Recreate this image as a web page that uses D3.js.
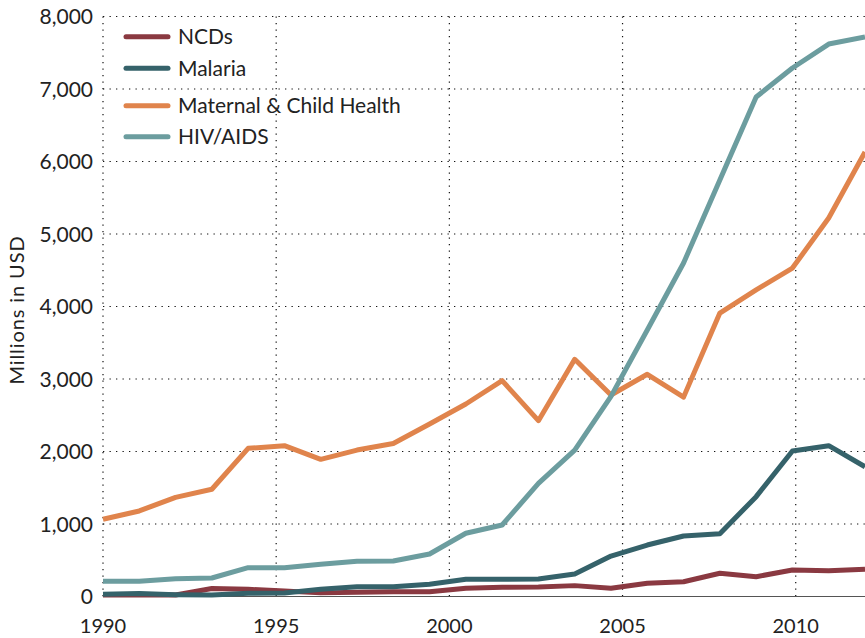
<!DOCTYPE html>
<html>
<head>
<meta charset="utf-8">
<title>Development assistance for health</title>
<script src="https://d3js.org/d3.v7.min.js"></script>
<style>
  body { margin: 0; background: #fff; }
  text { font-family: Lato, "Open Sans", sans-serif; fill: #222; }
</style>
</head>
<body>
<script type="text/javascript">
var width = 865,
    height = 638;

// data, millions of USD
var years = [1990, 1991, 1992, 1993, 1994, 1995, 1996, 1997, 1998, 1999, 2000,
             2001, 2002, 2003, 2004, 2005, 2006, 2007, 2008, 2009, 2010, 2011];
var ncds     = [20, 20, 20, 110, 100, 75, 50, 58, 66, 66, 113,
                127, 131, 150, 113, 182, 204, 320, 273, 365, 356, 375];
var malaria  = [30, 40, 25, 20, 45, 48, 100, 135, 135, 170, 237,
                237, 240, 310, 558, 710, 834, 866, 1377, 2007, 2080, 1790];
var maternal = [1065, 1180, 1368, 1479, 2044, 2080, 1892, 2020, 2110, 2380, 2655,
                2977, 2425, 3272, 2779, 3065, 2750, 3910, 4230, 4530, 5220, 6130];
var hiv      = [210, 210, 245, 255, 397, 397, 444, 485, 490, 586, 872,
                986, 1561, 2020, 2760, 3676, 4600, 5745, 6890, 7290, 7620, 7717];

var seriesNames = ["NCDs", "Malaria", "Maternal & Child Health", "HIV/AIDS"];
var seriesValues = [ncds, malaria, maternal, hiv];
var seriesColors = ["#8a3941", "#35626a", "#e0844c", "#6c9d9f"];

var xTicks = [1990, 1995, 2000, 2005, 2010];
var yTicks = [0, 1000, 2000, 3000, 4000, 5000, 6000, 7000, 8000];

var plotLeft = 103, plotRight = 865, plotTop = 16.5, plotBottom = 596.5;

var svg = d3.select("body").append("svg")
    .attr("width", width)
    .attr("height", height);

// axis labels sit on the calendar years, data points are spread evenly
var xAxisScale = d3.scaleLinear().domain([1990, 2012]).range([plotLeft, plotRight]);
var xData = d3.scalePoint().domain(years).range([plotLeft, plotRight]);
var y = d3.scaleLinear().domain([0, 8000]).range([plotBottom, plotTop]);

// grid
var grid = svg.append("g").attr("class", "grid");
grid.selectAll("line.h")
    .data(yTicks.filter(function(d) { return d > 0; }))
    .enter().append("line")
    .attr("class", "h")
    .attr("x1", plotLeft).attr("x2", plotRight)
    .attr("y1", function(d) { return y(d); })
    .attr("y2", function(d) { return y(d); })
    .attr("stroke", "#111")
    .attr("stroke-width", 1.2)
    .attr("stroke-dasharray", "1.3,5.2");
grid.selectAll("line.v")
    .data(xTicks)
    .enter().append("line")
    .attr("class", "v")
    .attr("x1", function(d) { return xAxisScale(d); })
    .attr("x2", function(d) { return xAxisScale(d); })
    .attr("y1", plotTop).attr("y2", plotBottom)
    .attr("stroke", "#111")
    .attr("stroke-width", 1.2)
    .attr("stroke-dasharray", "1.3,5.2");

// baseline
svg.append("line")
    .attr("x1", plotLeft).attr("x2", plotRight)
    .attr("y1", y(0)).attr("y2", y(0))
    .attr("stroke", "#555")
    .attr("stroke-width", 1.2);

// y tick labels
svg.append("g").selectAll("text")
    .data(yTicks)
    .enter().append("text")
    .attr("x", 93)
    .attr("y", function(d) { return y(d); })
    .attr("dy", "0.36em")
    .attr("text-anchor", "end")
    .style("font-size", "21px")
    .text(d3.format(","));

// x tick labels
svg.append("g").selectAll("text")
    .data(xTicks)
    .enter().append("text")
    .attr("x", function(d) { return xAxisScale(d); })
    .attr("y", 633)
    .attr("text-anchor", "middle")
    .style("font-size", "20px")
    .text(function(d) { return d; });

svg.append("text")
    .attr("transform", "translate(24,310) rotate(-90)")
    .attr("text-anchor", "middle")
    .style("font-size", "20px")
    .style("letter-spacing", "0.9px")
    .text("Millions in USD");

// lines
var line = d3.line()
    .x(function(d, i) { return xData(years[i]); })
    .y(function(d) { return y(d); });

svg.append("g").selectAll("path")
    .data(seriesValues)
    .enter().append("path")
    .attr("d", line)
    .attr("fill", "none")
    .attr("stroke", function(d, i) { return seriesColors[i]; })
    .attr("stroke-width", 5)
    .attr("stroke-linejoin", "round");

// legend
var legendY = [36.7, 68.3, 105.7, 136.7];
var legend = svg.append("g").selectAll("g")
    .data(seriesNames)
    .enter().append("g")
    .attr("transform", function(d, i) { return "translate(126," + legendY[i] + ")"; });
legend.append("line")
    .attr("x1", 0).attr("x2", 42)
    .attr("stroke", function(d, i) { return seriesColors[i]; })
    .attr("stroke-width", 5)
    .attr("stroke-linecap", "round");
legend.append("text")
    .attr("x", 52)
    .attr("dy", "0.36em")
    .style("font-size", "21px")
    .text(function(d) { return d; });
</script>
</body>
</html>
